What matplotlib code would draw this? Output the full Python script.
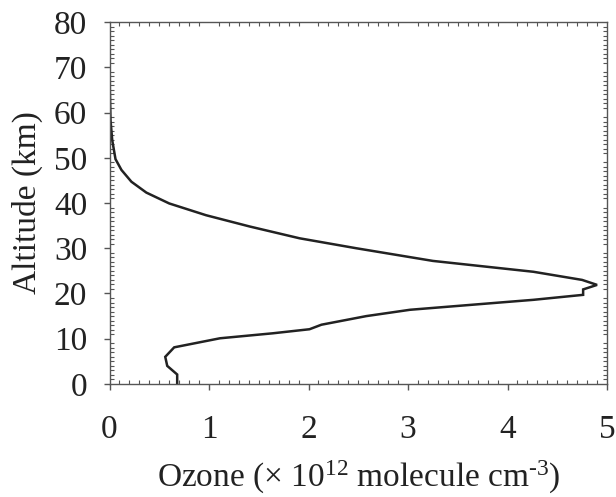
import matplotlib
matplotlib.use("Agg")
import matplotlib.pyplot as plt
from matplotlib.ticker import MultipleLocator

plt.rcParams['font.family'] = ['Liberation Serif', 'DejaVu Serif']
plt.rcParams['mathtext.fontset'] = 'custom'
plt.rcParams['mathtext.rm'] = 'Liberation Serif'
plt.rcParams['mathtext.it'] = 'Liberation Serif:italic'

ozone = [0.68, 0.68, 0.58, 0.56, 0.65, 1.11, 1.64, 2.01, 2.13, 2.58, 3.02, 3.92,
         4.26, 4.76, 4.76, 4.90, 4.75, 4.26, 3.25, 2.48, 1.91, 1.41, 0.97, 0.60,
         0.37, 0.22, 0.12, 0.06, 0.027, 0.01, 0.003, 0.0]
altitude = [0.0, 2.1, 4.0, 6.0, 8.1, 10.1, 11.2, 12.1, 13.1, 15.0, 16.4, 18.0,
            18.6, 19.7, 20.9, 21.9, 23.0, 24.8, 27.2, 30.0, 32.2, 34.8, 37.3, 39.9,
            42.3, 44.7, 47.3, 49.7, 53.9, 58.3, 65.0, 80.0]

fig = plt.figure(figsize=(6.16, 4.97), dpi=100)
ax = fig.add_axes([0.1778, 0.2274, 0.8076, 0.7283])
ax.plot(ozone, altitude, color='#222222', lw=1.8, solid_joinstyle='miter')
ax.set_xlim(0, 5)
ax.set_ylim(0, 80)
ax.xaxis.set_major_locator(MultipleLocator(1))
ax.xaxis.set_minor_locator(MultipleLocator(0.1))
ax.yaxis.set_major_locator(MultipleLocator(10))
ax.yaxis.set_minor_locator(MultipleLocator(1))
for s in ax.spines.values():
    s.set_color('#555555')
    s.set_linewidth(1.0)
ax.tick_params(which='major', direction='out', length=4, width=1, color='#555555',
               labelsize=24, top=False, right=False, labelcolor='#222222')
ax.tick_params(axis='y', which='major', pad=12)
ax.tick_params(axis='x', which='major', pad=18)
ax.tick_params(which='minor', direction='in', length=3, width=0.8, color='#555555',
               top=True, right=True)
ax.set_xlabel('Ozone (× 10$^{12}$ molecule cm$^{\u20103}$)', fontsize=24,
              color='#222222', va='baseline')
ax.xaxis.set_label_coords(0.5, -0.283)
ax.set_ylabel('Altitude (km)', fontsize=24, labelpad=8, color='#222222')
fig.savefig('out.png', dpi=100)
